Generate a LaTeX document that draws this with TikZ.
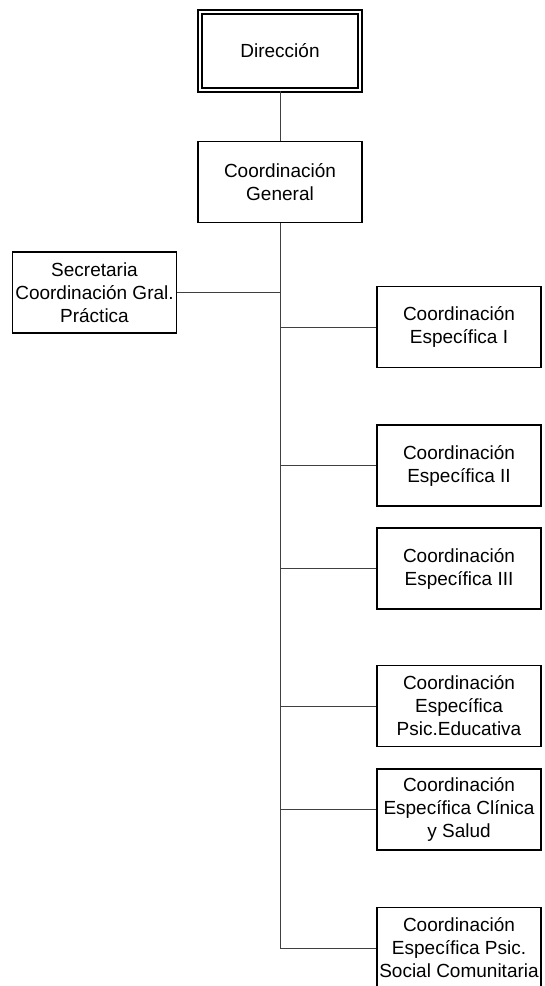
\documentclass[tikz,border=0pt]{standalone}
\usepackage{fontspec}
\setmainfont{Liberation Sans}
\usetikzlibrary{calc}

\begin{document}
\begin{tikzpicture}[x = 1pt, y = -1pt, font = \fontsize{19}{23}\selectfont,
        box/.style  = {draw, line width = 1.5pt, align = center, inner sep = 0pt,
                       minimum width = 164pt, minimum height = 81pt},
        link/.style = {draw = black!75, line width = 1pt}]
        \useasboundingbox (0,0) rectangle (544,986);

        \node (dir) [box, double, line width = 1.8pt, double distance = 2pt,
                     minimum width = 160pt, minimum height = 78pt] at (280,51) {Dirección};
        \node (gen) [box] at (280,182)   {Coordinación\\General};
        \node (sec) [box] at (94.5,292.5) {Secretaria\\Coordinación Gral.\\Práctica};

        \node (e1)  [box] at (459,327)   {Coordinación\\Específica I};
        \node (e2)  [box] at (459,465.5) {Coordinación\\Específica II};
        \node (e3)  [box] at (459,568.5) {Coordinación\\Específica III};
        \node (edu) [box] at (459,706)   {Coordinación\\Específica\\Psic.Educativa};
        \node (cli) [box] at (459,809.5) {Coordinación\\Específica Clínica\\y Salud};
        \node (soc) [box] at (459,948)   {Coordinación\\Específica Psic.\\Social Comunitaria};

        \draw[link] (dir) -- (gen);
        \draw[link] (gen.south) -- (gen.south |- soc.west) -- (soc.west);
        \draw[link] (sec.east) -- (sec.east -| gen.south);

        \foreach \n in {e1, e2, e3, edu, cli}
            \draw[link] (gen.south |- \n.west) -- (\n.west);

    \end{tikzpicture}
\end{document}
